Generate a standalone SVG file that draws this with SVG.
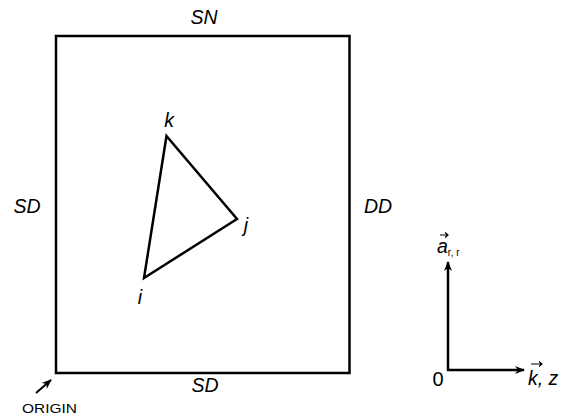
<svg xmlns="http://www.w3.org/2000/svg" width="568" height="419" viewBox="0 0 568 419">
<style>
.lbl{font-family:"Liberation Sans",Arial,sans-serif;font-style:italic;font-size:19.5px;fill:#000}
.up{font-family:"Liberation Sans",Arial,sans-serif;font-size:20px;fill:#000}
.sm{font-family:"Liberation Sans",Arial,sans-serif;font-size:13.5px;fill:#000}
.ln{fill:none;stroke:#000;stroke-width:2.5}
</style>
<defs>
<marker id="ah" markerWidth="10" markerHeight="8" refX="9" refY="4" orient="auto" markerUnits="userSpaceOnUse">
<path d="M0,0 L10,4 L0,8 L3,4 Z" fill="#000"/>
</marker>
</defs>
<g id="domain">
<rect class="ln" x="56" y="36" width="293.5" height="337"/>
</g>
<g id="triangle">
<polygon class="ln" points="166.5,136 237,219 144,278"/>
</g>
<g id="labels">
<text class="lbl" x="204" y="24" text-anchor="middle">SN</text>
<text class="lbl" x="27" y="213" text-anchor="middle">SD</text>
<text class="lbl" x="378" y="213" text-anchor="middle">DD</text>
<text class="lbl" x="205" y="392" text-anchor="middle">SD</text>
<text class="lbl" x="169" y="127" text-anchor="middle">k</text>
<text class="lbl" x="246" y="232" text-anchor="middle">j</text>
<text class="lbl" x="140" y="304" text-anchor="middle">i</text>
<text class="sm" x="22" y="413" textLength="55" lengthAdjust="spacingAndGlyphs">ORIGIN</text>
</g>
<g id="axes">
<text class="up" x="438" y="386" text-anchor="middle">0</text>
<text class="lbl" x="437" y="253">a<tspan font-size="10" font-style="normal" dy="3">r,  r</tspan></text>
<text class="lbl" x="528" y="385">k, z</text>
</g>
<g id="connectors">
<line class="ln" x1="448" y1="371" x2="448" y2="262" marker-end="url(#ah)"/>
<line class="ln" x1="447" y1="370" x2="524" y2="370" marker-end="url(#ah)"/>
<line x1="36" y1="393" x2="51" y2="380" stroke="#000" stroke-width="2" marker-end="url(#ah)"/>
<path d="M440,235 L448,235 M445,232.5 L448,235 L445,237.5" fill="none" stroke="#000" stroke-width="1.2"/>
<path d="M531,364 L542,364 M539,361.5 L542,364 L539,366.5" fill="none" stroke="#000" stroke-width="1.2"/>
</g>
</svg>
